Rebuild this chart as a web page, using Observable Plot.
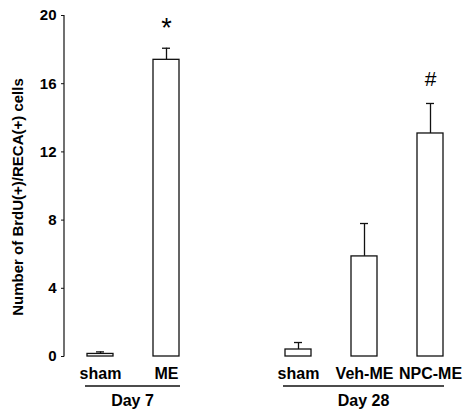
<!DOCTYPE html>
<html><head><meta charset="utf-8">
<script src="https://cdn.jsdelivr.net/npm/d3@7"></script>
<script src="https://cdn.jsdelivr.net/npm/@observablehq/plot@0.6"></script>
<style>html,body{margin:0;padding:0;background:#fff;}</style>
</head><body><div id="chart"></div>
<script>
// ---- data ----
const categories = ["sham7", "ME", "gap", "sham28", "Veh-ME", "NPC-ME"];
const tickLabels = ["sham", "ME", "", "sham", "Veh-ME", "NPC-ME"];
const barCats = ["sham7", "ME", "sham28", "Veh-ME", "NPC-ME"];
const means = [0.15, 17.4, 0.41, 5.87, 13.08];
const errors = [0.12, 0.68, 0.41, 1.93, 1.76];
const yTicks = [0, 4, 8, 12, 16, 20];
const yTitle = "Number of BrdU(+)/RECA(+) cells";
const groups = ["Day 7", "Day 28"];
const groupStart = ["sham7", "sham28"];
const groupEnd = ["ME", "NPC-ME"];
const annoCats = ["ME", "NPC-ME"];
const annoLabels = ["*", "#"];

const data = barCats.map((c, i) => ({cat: c, mean: means[i], err: errors[i], top: means[i] + errors[i]}));
const annos = annoCats.map((c, i) => ({cat: c, label: annoLabels[i], top: data.find(d => d.cat === c).top}));

const fontFamily = "'Liberation Sans', Arial, Helvetica, sans-serif";
const ink = "#111";

function bw(x) { return typeof x.bandwidth === "function" ? x.bandwidth() : 26.6; }

function axisLine(index, scales, values, dims) {
  const y = scales.y;
  return d3.create("svg:line")
    .attr("x1", dims.marginLeft).attr("x2", dims.marginLeft)
    .attr("y1", y(20)).attr("y2", y(0) + 0.5)
    .attr("stroke", ink).attr("stroke-width", 1.2).node();
}

function groupMark(index, scales, values, dims) {
  const x = scales.x;
  const base = dims.height - dims.marginBottom;
  const g = d3.create("svg:g");
  groups.forEach((label, i) => {
    const x1 = x(groupStart[i]) - 2;
    const x2 = x(groupEnd[i]) + bw(x) + 1;
    g.append("line").attr("x1", x1).attr("x2", x2)
      .attr("y1", base + 30).attr("y2", base + 30)
      .attr("stroke", ink).attr("stroke-width", 1.3);
    g.append("text").attr("x", (x1 + x2) / 2).attr("y", base + 44)
      .attr("dy", "0.35em")
      .attr("text-anchor", "middle").attr("font-size", 16).attr("font-weight", "bold")
      .attr("font-family", fontFamily).attr("fill", "#000").text(label);
  });
  return g.node();
}

const plot = Plot.plot({
  width: 467, height: 411,
  marginLeft: 64, marginTop: 15, marginBottom: 55, marginRight: 2,
  style: {fontFamily, background: "#fff", color: "#000", overflow: "visible"},
  x: {domain: categories, range: [65.25, 464.25], paddingInner: 0.6, paddingOuter: 0.3},
  y: {domain: [0, 20]},
  marks: [
    Plot.axisY({ticks: yTicks, tickSize: 3, tickPadding: 5, fontSize: 15, fontWeight: "bold", label: null, tickFormat: d => String(d), stroke: ink}),
    axisLine,
    Plot.ruleX(data, {x: "cat", y1: "mean", y2: "top", stroke: ink, strokeWidth: 1.3}),
    Plot.tickY(data, {x: "cat", y: "top", insetLeft: 9, insetRight: 9, stroke: ink, strokeWidth: 1.3}),
    Plot.barY(data, {x: "cat", y: "mean", fill: "white", stroke: ink, strokeWidth: 1.3}),
    Plot.axisX({tickSize: 0, tickPadding: 11, fontSize: 16, fontWeight: "bold", label: null, tickFormat: d => tickLabels[categories.indexOf(d)]}),
    groupMark,
    Plot.text(annos.filter(d => d.label === "*"), {x: "cat", y: "top", text: "label", dy: -20, fontSize: 27, fill: "#000"}),
    Plot.text(annos.filter(d => d.label === "#"), {x: "cat", y: "top", text: "label", dy: -24, fontSize: 21, fill: "#000"}),
    Plot.text([yTitle], {frameAnchor: "left", textAnchor: "middle", rotate: -90, dx: -46, dy: 11, fontSize: 15, fontWeight: "bold", fill: "#000"})
  ]
});
document.getElementById("chart").appendChild(plot);
</script>
</body></html>
